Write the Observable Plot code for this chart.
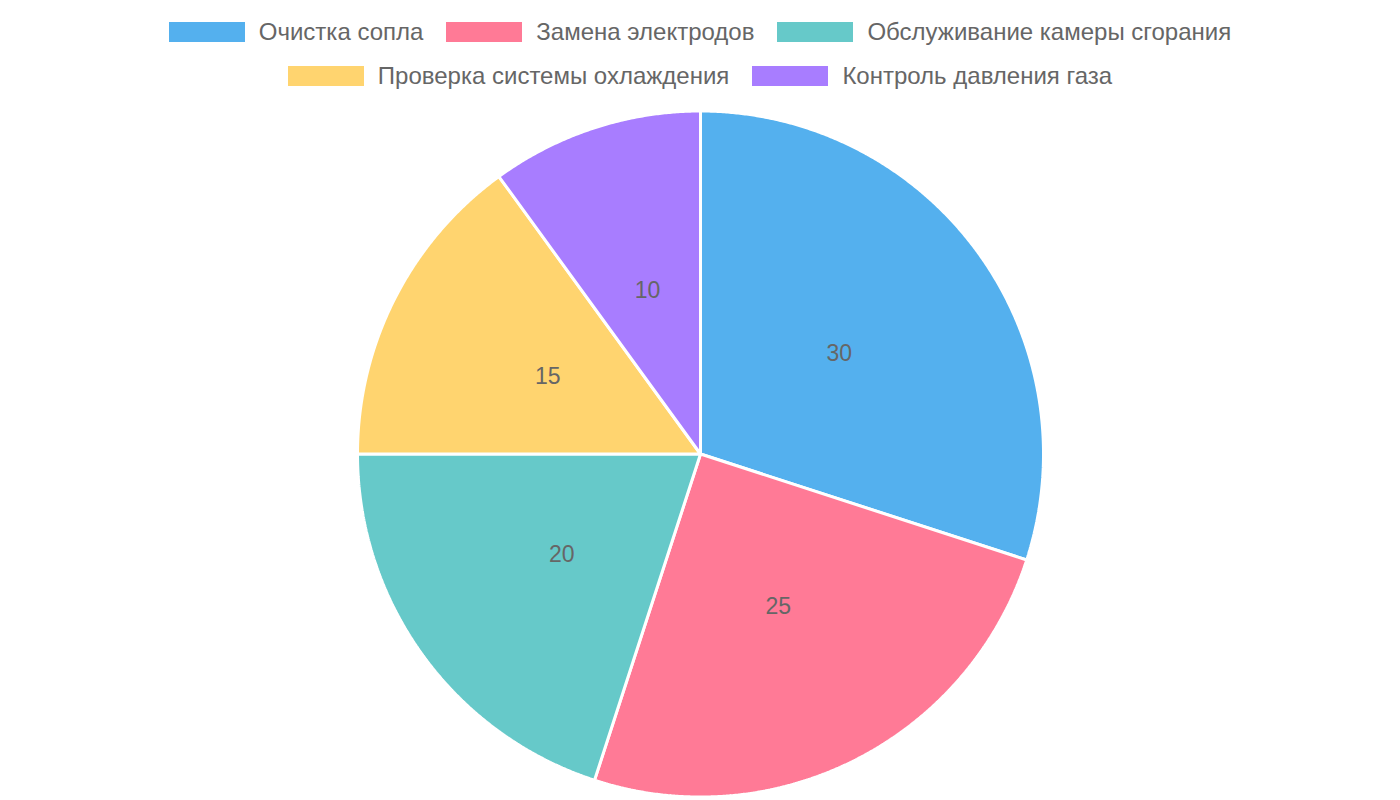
<!DOCTYPE html>
<html>
<head>
<meta charset="utf-8">
<script src="https://cdn.jsdelivr.net/npm/d3@7"></script>
<script src="https://cdn.jsdelivr.net/npm/@observablehq/plot@0.6"></script>
<style>
  html, body { margin: 0; padding: 0; background: #fff; }
  body { width: 1400px; height: 800px; overflow: hidden; font-family: "Liberation Sans", Arial, sans-serif; }
  #legend { height: 100px; display: flex; flex-direction: column; align-items: center; }
  .row { display: flex; justify-content: center; align-items: center; height: 44px; }
  .row:first-child { margin-top: 10px; }
  .item { display: flex; align-items: center; margin: 0 11.5px; }
  .sw { width: 76px; height: 20px; margin-right: 14px; }
  .lbl { font-size: 24px; color: #666; white-space: nowrap; }
</style>
</head>
<body>
<div id="legend"></div>
<div id="chart"></div>
<script>
const categories = ["Очистка сопла", "Замена электродов", "Обслуживание камеры сгорания", "Проверка системы охлаждения", "Контроль давления газа"];
const values = [30, 25, 20, 15, 10];
const colors = ["#54B0EE", "#FF7A96", "#66C9C9", "#FFD46F", "#A87DFF"];
const legendRows = [[0, 1, 2], [3, 4]];

const data = categories.map((name, i) => ({name, value: values[i]}));

// legend
const legend = document.getElementById("legend");
for (const row of legendRows) {
  const r = document.createElement("div");
  r.className = "row";
  for (const i of row) {
    const it = document.createElement("div");
    it.className = "item";
    it.innerHTML = `<div class="sw" style="background:${colors[i]}"></div><span class="lbl">${categories[i]}</span>`;
    r.appendChild(it);
  }
  legend.appendChild(r);
}

// pie geometry
const W = 1400, H = 700, R = 343, cy = 353.5;
const arcs = d3.pie().sort(null).value(d => d.value)(data);
const poly = [];
const labels = [];
for (const a of arcs) {
  const name = a.data.name;
  poly.push({name, x: 0, y: 0});
  const n = Math.max(2, Math.ceil((a.endAngle - a.startAngle) / 0.005));
  for (let k = 0; k <= n; k++) {
    const t = a.startAngle + (a.endAngle - a.startAngle) * k / n;
    poly.push({name, x: Math.sin(t), y: Math.cos(t)});
  }
  poly.push({name, x: 0, y: 0});
  const m = (a.startAngle + a.endAngle) / 2;
  labels.push({name, value: a.data.value, x: 0.5 * Math.sin(m), y: 0.5 * Math.cos(m)});
}

const chart = Plot.plot({
  width: W,
  height: H,
  margin: 0,
  x: {domain: [-W / 2 / R, W / 2 / R], axis: null},
  y: {domain: [-(H - cy) / R, cy / R], axis: null},
  color: {domain: categories, range: colors},
  marks: [
    Plot.line(poly, {x: "x", y: "y", z: "name", fill: "name", stroke: "white", strokeWidth: 3, strokeLinejoin: "miter", curve: "linear-closed"}),
    Plot.text(labels, {x: "x", y: "y", text: d => String(d.value), fill: "#666", fontSize: 23, fontFamily: "Liberation Sans, Arial, sans-serif"})
  ]
});
document.getElementById("chart").appendChild(chart);
</script>
</body>
</html>
